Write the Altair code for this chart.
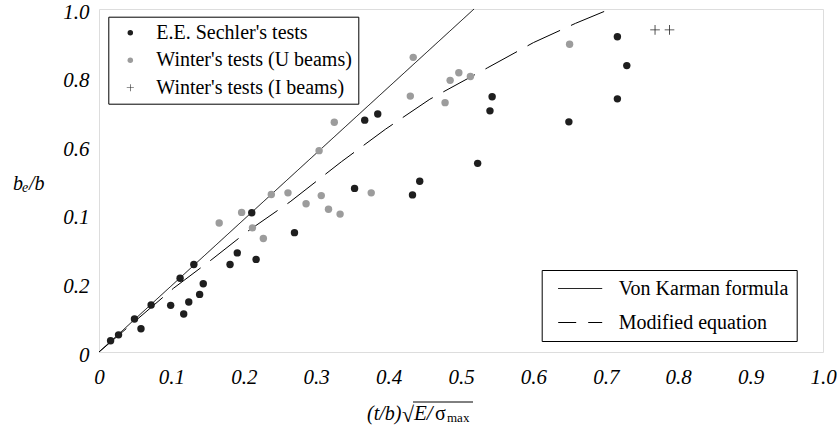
import json
import altair as alt
import pandas as pd

# ---------------- data ----------------
sechler_x = [0.016, 0.027, 0.049, 0.058, 0.072, 0.099, 0.117, 0.124, 0.139, 0.144,
             0.112, 0.131, 0.181, 0.191, 0.217, 0.211, 0.270, 0.353, 0.367, 0.385,
             0.433, 0.443, 0.523, 0.540, 0.543, 0.649, 0.716, 0.729, 0.716]
sechler_y = [0.033, 0.050, 0.096, 0.068, 0.137, 0.136, 0.111, 0.146, 0.168, 0.199,
             0.215, 0.255, 0.255, 0.289, 0.270, 0.406, 0.348, 0.477, 0.676, 0.694,
             0.458, 0.498, 0.550, 0.703, 0.744, 0.671, 0.919, 0.835, 0.738]

winter_u_x = [0.166, 0.197, 0.212, 0.227, 0.238, 0.261, 0.286, 0.307, 0.317, 0.333,
              0.304, 0.325, 0.376, 0.434, 0.430, 0.478, 0.485, 0.497, 0.513, 0.650]
winter_u_y = [0.376, 0.407, 0.362, 0.331, 0.459, 0.464, 0.432, 0.456, 0.416, 0.402,
              0.587, 0.670, 0.464, 0.859, 0.746, 0.727, 0.792, 0.814, 0.803, 0.897]

winter_i_x = [0.768, 0.788]
winter_i_y = [0.939, 0.939]

karman_x = [0.0, 0.518]
karman_y = [0.0, 1.0]

modified_x = [0.0, 0.103, 0.156, 0.206, 0.264, 0.335, 0.396, 0.457, 0.537, 0.600, 0.658, 0.706]
modified_y = [0.0, 0.186, 0.270, 0.353, 0.438, 0.555, 0.650, 0.737, 0.829, 0.902, 0.958, 1.0]

series_names = ["E.E. Sechler's tests", "Winter's tests (U beams)", "Winter's tests (I beams)"]
curve_names = ["Von Karman formula", "Modified equation"]

x_ticks = [0.0, 0.1, 0.2, 0.3, 0.4, 0.5, 0.6, 0.7, 0.8, 0.9, 1.0]
x_tick_labels = ["0", "0.1", "0.2", "0.3", "0.4", "0.5", "0.6", "0.7", "0.8", "0.9", "1.0"]
y_ticks = [0.0, 0.2, 0.4, 0.6, 0.8, 1.0]
y_tick_labels = ["0", "0.2", "0.1", "0.6", "0.8", "1.0"]

# ---------------- styling ----------------
SERIF = "Liberation Serif, Times New Roman, Times, DejaVu Serif, serif"
series_colors = ["#1e1e1e", "#9c9c9c", "#2a2a2a"]
plus_path = "M-1.3,-0.11H1.3V0.11H-1.3Z M-0.11,-1.3H0.11V1.3H-0.11Z"
series_shapes = ["circle", "circle", plus_path]

pts = pd.DataFrame({
    "x": sechler_x + winter_u_x + winter_i_x,
    "y": sechler_y + winter_u_y + winter_i_y,
    "series": [series_names[0]] * len(sechler_x)
              + [series_names[1]] * len(winter_u_x)
              + [series_names[2]] * len(winter_i_x),
})

lines = pd.DataFrame({
    "x": karman_x + modified_x,
    "y": karman_y + modified_y,
    "curve": [curve_names[0]] * len(karman_x) + [curve_names[1]] * len(modified_x),
    "idx": list(range(len(karman_x))) + list(range(len(modified_x))),
})

x_label_expr = json.dumps(x_tick_labels) + "[round(datum.value*10)]"
y_label_expr = json.dumps(y_tick_labels) + "[round(datum.value*5)]"

x_enc = alt.X("x:Q", scale=alt.Scale(domain=[0, 1], nice=False, zero=False),
              axis=alt.Axis(values=x_ticks, labelExpr=x_label_expr, title=None,
                            domain=False, ticks=False, grid=False,
                            labelFont=SERIF, labelFontStyle="italic", labelFontSize=21,
                            labelColor="black", labelPadding=14, labelFlush=False))
y_enc = alt.Y("y:Q", scale=alt.Scale(domain=[0, 1], nice=False, zero=False),
              axis=alt.Axis(values=y_ticks, labelExpr=y_label_expr, title=None,
                            domain=False, ticks=False, grid=False,
                            labelFont=SERIF, labelFontStyle="italic", labelFontSize=21,
                            labelColor="black", labelPadding=10, labelOffset=3))

leg_points = alt.Legend(title=None, orient="none", legendX=9.3, legendY=7.7,
                        direction="vertical", strokeColor="black", fillColor="white",
                        padding=6, symbolSize=30, symbolOffset=6, labelOffset=16,
                        rowPadding=7.5, labelFont=SERIF, labelFontSize=20,
                        labelColor="black", labelLimit=400)

leg_lines = alt.Legend(title=None, orient="none", legendX=442.7, legendY=261,
                       direction="vertical", strokeColor="black", fillColor="white",
                       padding=8, symbolType="M-2.2,0H2.2", symbolSize=400,
                       symbolOffset=20, labelOffset=28, rowPadding=13,
                       labelFont=SERIF, labelFontSize=20, labelColor="black",
                       labelLimit=400, symbolStrokeColor="black", symbolStrokeWidth=1,
                       symbolDashOffset=18)

line_layer = alt.Chart(lines).mark_line(color="black", strokeWidth=1).encode(
    x=x_enc, y=y_enc,
    strokeDash=alt.StrokeDash("curve:N",
                              scale=alt.Scale(domain=curve_names, range=[[1, 0], [36, 12]]),
                              legend=leg_lines),
    order="idx:Q",
)

point_layer = alt.Chart(pts).mark_point(filled=True, size=55, opacity=1).encode(
    x=x_enc, y=y_enc,
    color=alt.Color("series:N", scale=alt.Scale(domain=series_names, range=series_colors),
                    legend=leg_points),
    shape=alt.Shape("series:N", scale=alt.Scale(domain=series_names, range=series_shapes),
                    legend=leg_points),
)

one = pd.DataFrame({"k": [0]})


def txt(s, px, py, size=20, style="italic"):
    return alt.Chart(one).mark_text(text=s, align="left", baseline="alphabetic",
                                    font=SERIF, fontSize=size, fontStyle=style,
                                    color="black").encode(x=alt.value(px), y=alt.value(py))


# x-axis title: (t/b) sqrt(E / sigma_max)
x_title = [
    txt("(t/b)", 268, 411),
    txt("\u221a", 303, 413, size=22, style="normal"),
    alt.Chart(one).mark_rule(color="black", strokeWidth=1).encode(
        x=alt.value(314), x2=alt.value(374), y=alt.value(393)),
    txt("E/", 315, 411, size=21),
    txt("\u03c3", 336, 411, style="normal"),
    txt("max", 348, 413, size=13, style="normal"),
]

# y-axis title: b_e/b
y_title = [
    txt("b", -86, 181),
    txt("e", -77, 183, size=14),
    txt("/b", -70, 181),
]

chart = alt.layer(line_layer, point_layer, *x_title, *y_title).properties(
    width=724, height=343,
    autosize=alt.AutoSizeParams(type="none"),
    padding={"left": 99, "top": 9, "right": 14, "bottom": 78},
).configure_view(stroke="black", strokeWidth=1.2).configure(background="white")

chart.save("out.html", embed_options={"renderer": "svg", "actions": False})
